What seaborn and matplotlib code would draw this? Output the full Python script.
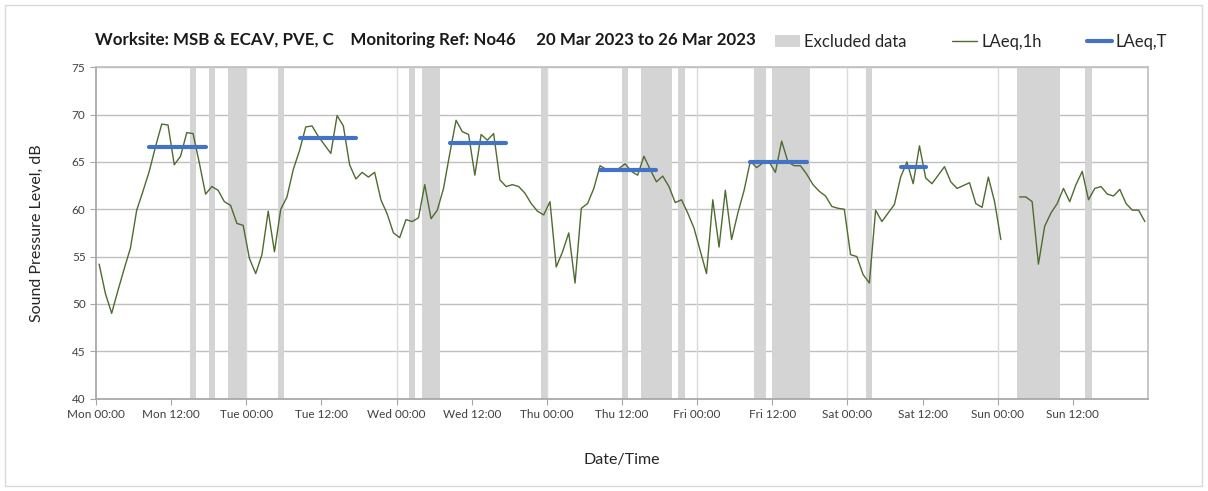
import numpy as np
import pandas as pd
import seaborn as sns
import matplotlib.pyplot as plt
from matplotlib.patches import Patch, Rectangle
from matplotlib.lines import Line2D

# hourly LAeq,1h values per day (dB)
mon = [54.2, 51.1, 49.0, 51.4, 53.7, 55.9, 59.9, 61.9, 64.0, 66.6, 69.0, 68.9,
       64.7, 65.6, 68.1, 68.0, 64.9, 61.6, 62.4, 62.0, 60.8, 60.4, 58.5, 58.3]
tue = [54.8, 53.2, 55.2, 59.8, 55.5, 60.0, 61.3, 64.2, 66.2, 68.7, 68.8, 67.7,
       66.8, 65.9, 69.9, 68.8, 64.7, 63.2, 63.9, 63.4, 63.9, 61.0, 59.5, 57.5]
wed = [57.0, 58.9, 58.7, 59.1, 62.6, 59.0, 59.9, 62.2, 65.9, 69.4, 68.2, 67.9,
       63.6, 67.9, 67.3, 68.0, 63.1, 62.4, 62.6, 62.4, 61.7, 60.6, 59.8, 59.4]
thu = [60.8, 53.9, 55.5, 57.5, 52.2, 60.1, 60.6, 62.2, 64.6, 64.2, 64.2, 64.3,
       64.8, 64.0, 63.6, 65.6, 64.2, 62.9, 63.5, 62.4, 60.7, 61.0, 59.6, 58.0]
fri = [55.6, 53.2, 61.0, 56.0, 62.0, 56.8, 59.6, 62.0, 65.1, 64.4, 64.9, 65.0,
       63.9, 67.2, 65.0, 64.6, 64.6, 63.7, 62.6, 61.9, 61.4, 60.3, 60.1, 60.0]
sat = [55.2, 55.0, 53.1, 52.2, 59.9, 58.7, 59.6, 60.5, 63.4, 65.0, 62.7, 66.7,
       63.3, 62.7, 63.6, 64.5, 62.9, 62.2, 62.5, 62.8, 60.6, 60.2, 63.4, 60.8]
sun = [56.8, np.nan, np.nan, 61.3, 61.3, 60.8, 54.2, 58.2, 59.6, 60.6, 62.2, 60.8,
       62.6, 64.0, 61.0, 62.2, 62.4, 61.6, 61.4, 62.1, 60.6, 59.9, 59.9, 58.7]

# LAeq,T periods (first hour, last hour, level)
period_start = [8, 32, 56, 80, 104, 128]
period_end = [17, 41, 65, 89, 113, 132]
period_level = [66.6, 67.5, 67.0, 64.1, 65.0, 64.5]

# excluded data windows, hours from Mon 00:00
excl_start = [15, 18, 21, 29, 50, 52, 71, 84, 87, 93, 105, 108, 123, 147, 158]
excl_end = [16, 19, 24, 30, 51, 55, 72, 85, 92, 94, 107, 114, 124, 154, 159]

tick_labels = ["Mon 00:00", "Mon 12:00", "Tue 00:00", "Tue 12:00", "Wed 00:00",
               "Wed 12:00", "Thu 00:00", "Thu 12:00", "Fri 00:00", "Fri 12:00",
               "Sat 00:00", "Sat 12:00", "Sun 00:00", "Sun 12:00"]

title = ("Worksite: MSB & ECAV, PVE, C    Monitoring Ref: No46     "
         "20 Mar 2023 to 26 Mar 2023")

green = "#4f6b2f"
blue = "#4472c4"
band = "#d4d4d4"

levels = np.array(mon + tue + wed + thu + fri + sat + sun)
hourly = pd.DataFrame({"hour": np.arange(len(levels)) + 0.5, "level": levels})
# split into runs so the gap stays open
hourly["run"] = hourly["level"].isna().cumsum()
hourly = hourly.dropna()

rows = []
for k, (s, e, v) in enumerate(zip(period_start, period_end, period_level)):
    for h in range(s, e + 1):
        rows.append({"hour": h + 0.5, "level": v, "period": k})
periods = pd.DataFrame(rows)

sns.set_theme(style="white")
plt.rcParams["font.family"] = ["Lato", "DejaVu Sans"]

fig = plt.figure(figsize=(12.08, 4.91), dpi=100)
ax = fig.add_axes([96 / 1208, 1 - 398.5 / 491, 1052 / 1208, 331.2 / 491])

for s, e in zip(excl_start, excl_end):
    ax.axvspan(s, e, color=band, lw=0, zorder=1)

for y in range(45, 80, 5):
    ax.axhline(y, color="#c0c0c0", lw=1, zorder=0.5)
for x in range(24, 169, 24):
    ax.axvline(x, color="#dadada", lw=1, zorder=0.5)

sns.lineplot(data=hourly, x="hour", y="level", units="run", estimator=None,
             color=green, lw=1, ax=ax, zorder=3)
sns.lineplot(data=periods, x="hour", y="level", units="period", estimator=None,
             color=blue, lw=3, ax=ax, zorder=4, solid_capstyle="round")

ax.set_xlim(0, 168)
ax.set_ylim(40, 75)
ax.set_xticks(np.arange(0, 168, 12))
ax.set_xticklabels(tick_labels)
ax.set_yticks(range(40, 80, 5))
ax.tick_params(axis="both", labelsize=8.5, colors="#a6a6a6", labelcolor="#404040",
               length=4, direction="out", width=0.8, bottom=True, left=True)
for side in ["top", "right"]:
    ax.spines[side].set_color("#c0c0c0")
for side in ["left", "bottom"]:
    ax.spines[side].set_color("#a6a6a6")

ax.set_xlabel("Date/Time", fontsize=11.5, color="#262626", labelpad=24)
ax.set_ylabel("Sound Pressure Level, dB", fontsize=11.5, color="#262626", labelpad=20)

fig.text(95 / 1208, 1 - 40 / 491, title, fontsize=12.2, fontweight="bold",
         color="#1a1a1a", va="center", ha="left")

handles = [Patch(facecolor=band, edgecolor="none"),
           Line2D([], [], color=green, lw=1),
           Line2D([], [], color=blue, lw=3)]
fig.legend(handles, ["Excluded data", "LAeq,1h", "LAeq,T"], ncol=3,
           loc="center right", bbox_to_anchor=(1174 / 1208, 1 - 42 / 491),
           frameon=False, fontsize=12, handlelength=1.5, handletextpad=0.25,
           columnspacing=2.7, labelcolor="#262626", borderaxespad=0)

fig.add_artist(Rectangle((5 / 1208, 5 / 491), 1197 / 1208, 481 / 491,
                         transform=fig.transFigure, fill=False,
                         edgecolor="#d9d9d9", lw=1))

fig.savefig("out.png", dpi=100)
